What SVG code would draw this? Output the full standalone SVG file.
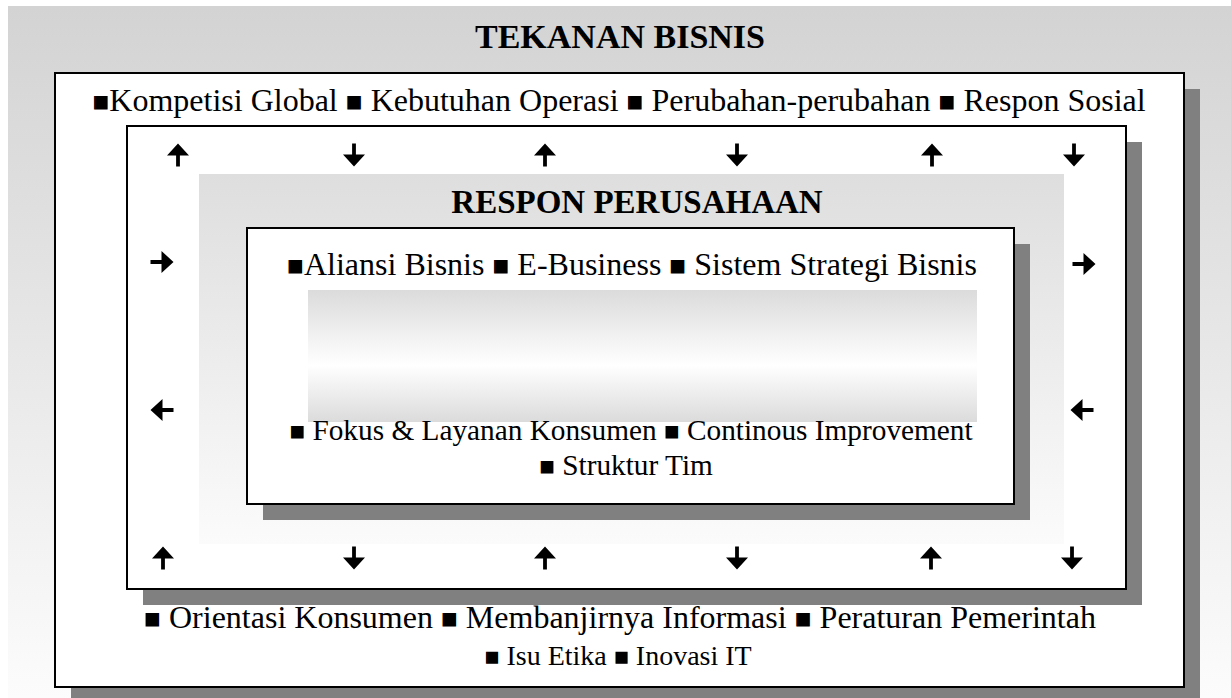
<svg xmlns="http://www.w3.org/2000/svg" width="1231" height="698" viewBox="0 0 1231 698">
  <defs>
    <linearGradient id="bgGrad" x1="0" y1="0" x2="0" y2="1">
      <stop offset="0" stop-color="#d3d3d3"/>
      <stop offset="1" stop-color="#fcfcfc"/>
    </linearGradient>
    <linearGradient id="responGrad" x1="0" y1="0" x2="0" y2="1">
      <stop offset="0" stop-color="#dedede"/>
      <stop offset="1" stop-color="#fbfbfb"/>
    </linearGradient>
    <linearGradient id="bandGrad" x1="0" y1="0" x2="0" y2="1">
      <stop offset="0" stop-color="#dbdbdb"/>
      <stop offset="0.57" stop-color="#ffffff"/>
      <stop offset="1" stop-color="#dbdbdb"/>
    </linearGradient>
    <!-- block arrow centred on the origin, pointing up -->
    <path id="arrow" d="M0,-11.5 L11,0.5 L1.9,0.5 L1.9,11.5 L-1.9,11.5 L-1.9,0.5 L-11,0.5 Z"/>
    <style>
      .box { fill: #ffffff; stroke: #000000; stroke-width: 2; }
      .shadow { fill: #808080; }
      .title { font-family: "Liberation Serif", "Times New Roman", serif; font-weight: bold; fill: #000; text-anchor: middle; }
      .item { font-family: "Liberation Serif", "Times New Roman", serif; font-size: 32px; fill: #000; text-anchor: middle; }
      .item .b { font-size: 28px; }
      .item.sm { font-size: 29.3px; }
      .item.sm .b { font-size: 26px; }
      .item.xs { font-size: 28px; }
      .item.xs .b { font-size: 25px; }
      .arr { fill: #000; }
    </style>
  </defs>

  <!-- page background -->
  <rect x="8" y="6" width="1223" height="692" fill="url(#bgGrad)"/>

  <g id="tekanan-bisnis">
    <text class="title" x="620" y="48" font-size="34">TEKANAN BISNIS</text>
    <rect class="shadow" x="71" y="89" width="1129" height="614"/>
    <rect class="box" x="55" y="73" width="1129" height="614"/>
    <text class="item" x="619" y="111"><tspan class="b">■</tspan>Kompetisi Global <tspan class="b">■</tspan> Kebutuhan Operasi <tspan class="b">■</tspan> Perubahan-perubahan <tspan class="b">■</tspan> Respon Sosial</text>
    <text class="item" x="620" y="628"><tspan class="b">■</tspan> Orientasi Konsumen <tspan class="b">■</tspan> Membanjirnya Informasi <tspan class="b">■</tspan> Peraturan Pemerintah</text>
    <text class="item xs" x="618" y="665"><tspan class="b">■</tspan> Isu Etika <tspan class="b">■</tspan> Inovasi IT</text>
  </g>

  <g id="interaksi">
    <rect class="shadow" x="143" y="142" width="999" height="463"/>
    <rect class="box" x="127" y="126" width="999" height="463"/>
  </g>

  <g id="respon-perusahaan">
    <rect x="199" y="174" width="865" height="370" fill="url(#responGrad)"/>
    <text class="title" x="637" y="213" font-size="33">RESPON PERUSAHAAN</text>
    <rect class="shadow" x="263" y="244" width="767" height="276"/>
    <rect class="box" x="247" y="228" width="767" height="276"/>
    <rect x="308" y="290" width="669" height="132" fill="url(#bandGrad)"/>
    <text class="item" x="632" y="275"><tspan class="b">■</tspan>Aliansi Bisnis <tspan class="b">■</tspan> E-Business <tspan class="b">■</tspan> Sistem Strategi Bisnis</text>
    <text class="item sm" x="631" y="440"><tspan class="b">■</tspan> Fokus &amp; Layanan Konsumen <tspan class="b">■</tspan> Continous Improvement</text>
    <text class="item sm" x="626" y="475"><tspan class="b">■</tspan> Struktur Tim</text>
  </g>

  <g id="connectors" class="arr">
    <!-- top row -->
    <use href="#arrow" transform="translate(178,155)"/>
    <use href="#arrow" transform="translate(354,155) rotate(180)"/>
    <use href="#arrow" transform="translate(545,155)"/>
    <use href="#arrow" transform="translate(737,155) rotate(180)"/>
    <use href="#arrow" transform="translate(932,155)"/>
    <use href="#arrow" transform="translate(1074,155) rotate(180)"/>
    <!-- sides -->
    <use href="#arrow" transform="translate(162,262) rotate(90)"/>
    <use href="#arrow" transform="translate(1084,264) rotate(90)"/>
    <use href="#arrow" transform="translate(162,410) rotate(-90)"/>
    <use href="#arrow" transform="translate(1082,410) rotate(-90)"/>
    <!-- bottom row -->
    <use href="#arrow" transform="translate(163,558)"/>
    <use href="#arrow" transform="translate(354,558) rotate(180)"/>
    <use href="#arrow" transform="translate(545,558)"/>
    <use href="#arrow" transform="translate(737,558) rotate(180)"/>
    <use href="#arrow" transform="translate(931,558)"/>
    <use href="#arrow" transform="translate(1072,558) rotate(180)"/>
  </g>
</svg>
